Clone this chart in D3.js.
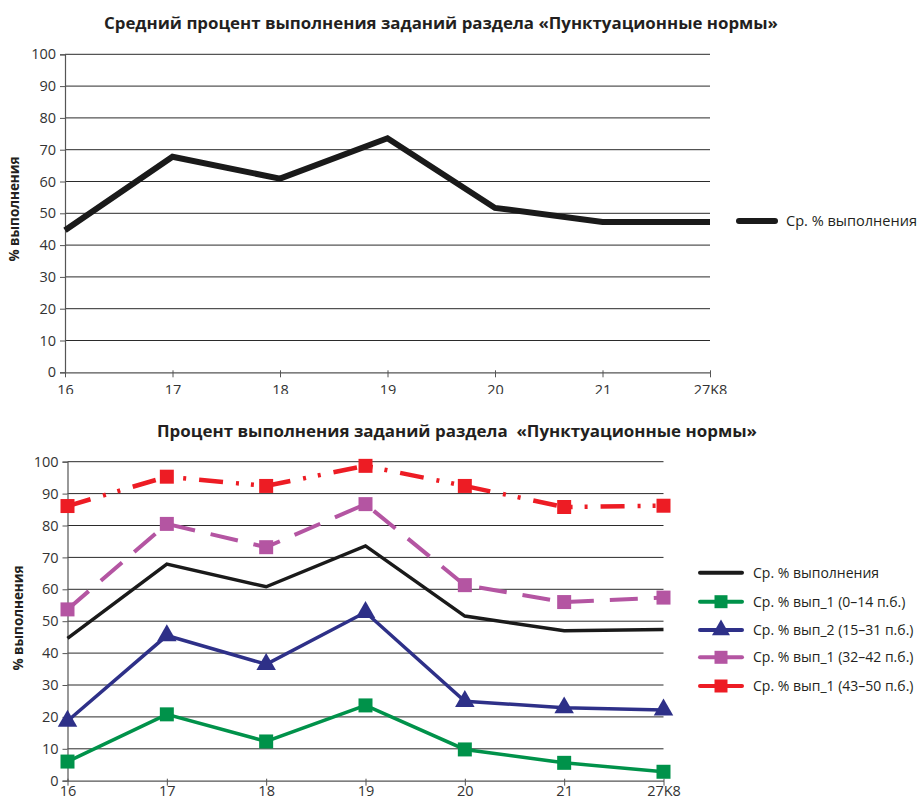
<!DOCTYPE html>
<html><head><meta charset="utf-8">
<script src="https://cdn.jsdelivr.net/npm/d3@7"></script>
<style>
body{margin:0;background:#fff;}
svg{display:block;font-family:"Open Sans",sans-serif;}
</style></head>
<body>
<svg id="c" width="923" height="803"></svg>
<script>
const categories = ["16","17","18","19","20","21","27K8"];
const yTicks = [0,10,20,30,40,50,60,70,80,90,100];
const avgTop = [44.7, 67.8, 60.9, 73.6, 51.7, 47.3, 47.3];
const avgAll = [44.6, 67.9, 60.8, 73.6, 51.6, 47.0, 47.4];
const grp1 = [6.0, 20.8, 12.3, 23.6, 9.8, 5.6, 2.8];
const grp2 = [18.7, 45.5, 36.5, 52.8, 24.9, 22.9, 22.2];
const grp3 = [53.7, 80.5, 73.2, 86.7, 61.3, 56.0, 57.4];
const grp4 = [86.1, 95.3, 92.4, 98.7, 92.4, 85.8, 86.2];
const seriesNames = ["Ср. % выполнения","Ср. % вып_1 (0–14 п.б.)","Ср. % вып_2 (15–31 п.б.)","Ср. % вып_1 (32–42 п.б.)","Ср. % вып_1 (43–50 п.б.)"];
const titleTop = "Средний процент выполнения заданий раздела «Пунктуационные нормы»";
const titleBottom = "Процент выполнения заданий раздела  «Пунктуационные нормы»";
const yLabel = "% выполнения";

const svg = d3.select("#c");
svg.append("defs").append("clipPath").attr("id","clipTop")
  .append("rect").attr("x",0).attr("y",0).attr("width",923).attr("height",394);

function drawFrame(g, x, y, x0, x1, y0, xPad) {
  g.append("g").selectAll("line").data(yTicks.filter(d=>d>0)).join("line")
    .attr("x1",x0).attr("x2",x1).attr("y1",d=>y(d)).attr("y2",d=>y(d))
    .attr("stroke","#2b2b2b").attr("stroke-width",1);
  const ya = g.append("g").attr("transform",`translate(${x0},0)`)
    .call(d3.axisLeft(y).tickValues(yTicks).tickSize(5).tickPadding(4));
  ya.select(".domain").attr("stroke","#555").attr("stroke-width",1.2);
  ya.selectAll(".tick line").attr("stroke","#555");
  ya.selectAll("text").attr("font-size",14.5).attr("fill","#333").attr("font-family","Open Sans");
  const xa = g.append("g").attr("transform",`translate(0,${y0})`)
    .call(d3.axisBottom(x).tickSize(5).tickSizeOuter(0).tickPadding(xPad));
  xa.select(".domain").attr("stroke","#555").attr("stroke-width",1.2);
  xa.selectAll(".tick line").attr("stroke","#555").attr("y1",-2);
  xa.selectAll("text").attr("font-size",14.5).attr("fill","#333").attr("font-family","Open Sans");
}

// ---------- Top chart ----------
const gTop = svg.append("g").attr("clip-path","url(#clipTop)");
const xT = d3.scalePoint().domain(categories).range([65,710]);
const yT = d3.scaleLinear().domain([0,100]).range([372.3,54.3]);
drawFrame(gTop, xT, yT, 65, 710, 372.3, 7);
gTop.append("path").datum(avgTop)
  .attr("d", d3.line().x((d,i)=>xT(categories[i])).y(d=>yT(d)))
  .attr("fill","none").attr("stroke","#1a1a1a").attr("stroke-width",6).attr("stroke-linejoin","miter");
svg.append("text").attr("x",441).attr("y",29).attr("text-anchor","middle")
  .attr("font-weight","bold").attr("font-size",15.5).attr("fill","#231f20")
  .attr("textLength",674).attr("lengthAdjust","spacingAndGlyphs").text(titleTop);
svg.append("text").attr("transform","translate(19,209) rotate(-90)").attr("text-anchor","middle")
  .attr("font-weight","bold").attr("font-size",13.5).attr("fill","#231f20").text(yLabel);
svg.append("line").attr("x1",739).attr("x2",775).attr("y1",221).attr("y2",221)
  .attr("stroke","#1a1a1a").attr("stroke-width",6).attr("stroke-linecap","round");
svg.append("text").attr("x",786).attr("y",226).attr("font-size",14.5).attr("fill","#231f20")
  .attr("textLength",131).attr("lengthAdjust","spacingAndGlyphs").text(seriesNames[0]);

// ---------- Bottom chart ----------
const gBot = svg.append("g");
const xB = d3.scalePoint().domain(categories).range([67.5,663.5]);
const yB = d3.scaleLinear().domain([0,100]).range([780.7,461.7]);
drawFrame(gBot, xB, yB, 67.5, 663.5, 780.7, 0);
svg.append("text").attr("x",457).attr("y",437).attr("text-anchor","middle")
  .attr("font-weight","bold").attr("font-size",15.5).attr("fill","#231f20")
  .style("white-space","pre")
  .attr("textLength",600).attr("lengthAdjust","spacingAndGlyphs").text(titleBottom);
svg.append("text").attr("transform","translate(23,618) rotate(-90)").attr("text-anchor","middle")
  .attr("font-weight","bold").attr("font-size",13.5).attr("fill","#231f20").text(yLabel);

const series = [
  {vals:avgAll, color:"#1a1a1a", w:3.5, dash:null, marker:null},
  {vals:grp1, color:"#00924a", w:3.5, dash:null, marker:"square"},
  {vals:grp2, color:"#2e3088", w:3.5, dash:null, marker:"triangle"},
  {vals:grp3, color:"#b455a2", w:4, dash:"28,16", marker:"square"},
  {vals:grp4, color:"#ed1c24", w:4.5, dash:"24,13,3,12,3,13", marker:"square"}
];
const lineB = d3.line().x((d,i)=>xB(categories[i])).y(d=>yB(d));
const sqr = d3.symbol().type(d3.symbolSquare).size(196);
const tri = d3.symbol().type(d3.symbolTriangle).size(165);
series.forEach(s=>{
  gBot.append("path").datum(s.vals).attr("d",lineB).attr("fill","none")
    .attr("stroke",s.color).attr("stroke-width",s.w).attr("stroke-dasharray",s.dash);
});
series.forEach(s=>{
  if(!s.marker) return;
  gBot.append("g").selectAll("path").data(s.vals).join("path")
    .attr("transform",(d,i)=>`translate(${xB(categories[i])},${yB(d)})`)
    .attr("d", s.marker==="square"? sqr() : tri()).attr("fill",s.color);
});
const legY = [572.7, 601.7, 630, 657.3, 686];
const legSq = d3.symbol().type(d3.symbolSquare).size(169);
const legTri = d3.symbol().type(d3.symbolTriangle).size(140);
series.forEach((s,i)=>{
  const lg = svg.append("g").attr("transform",`translate(0,${legY[i]})`);
  lg.append("line").attr("x1",700).attr("x2",742).attr("y1",0).attr("y2",0)
    .attr("stroke",s.color).attr("stroke-width",4).attr("stroke-linecap","round");
  if(s.marker) lg.append("path").attr("transform","translate(721,0)")
    .attr("d", s.marker==="square"? legSq() : legTri()).attr("fill",s.color);
  lg.append("text").attr("x",753).attr("y",5).attr("font-size",14).attr("fill","#231f20").text(seriesNames[i]);
});
</script>
</body></html>
